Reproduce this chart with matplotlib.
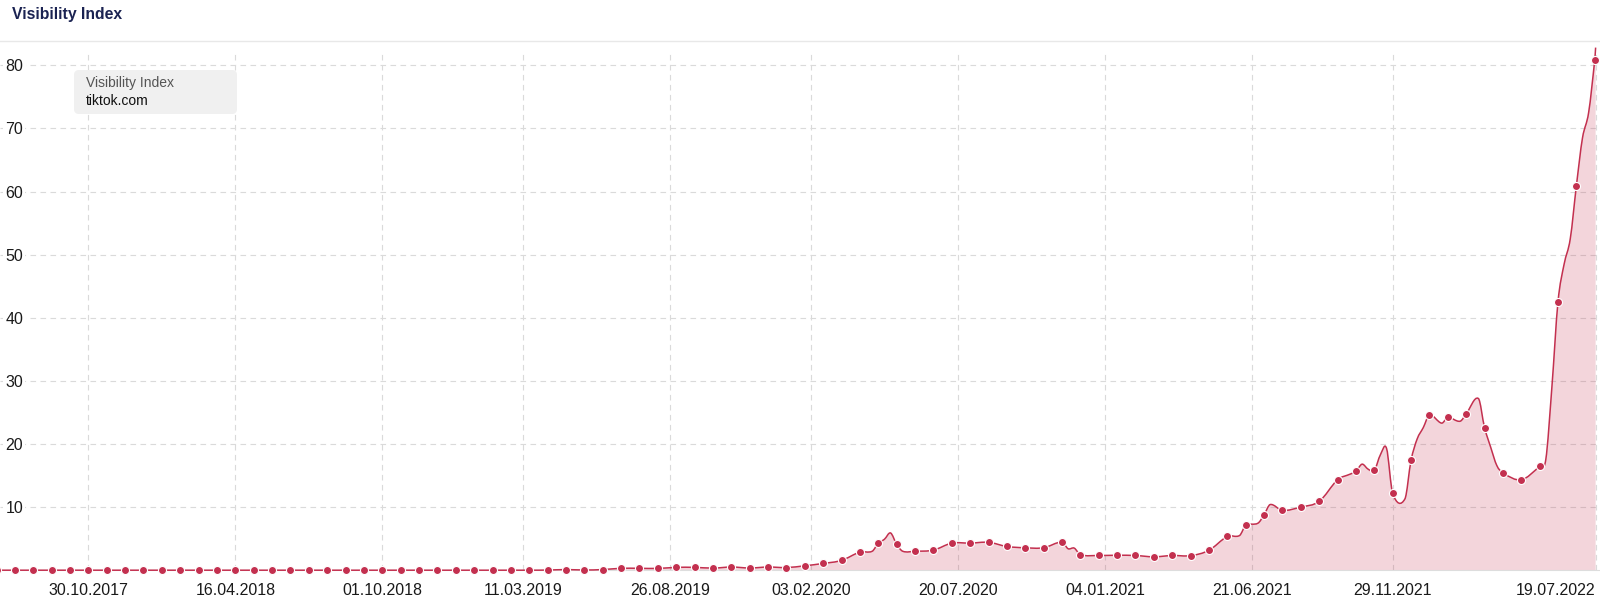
"""Visibility Index chart for tiktok.com (weekly index, dot every third week)."""

import matplotlib

matplotlib.use("Agg")
import matplotlib.pyplot as plt
import matplotlib.dates as mdates
from matplotlib.patches import FancyBboxPatch, PathPatch
from matplotlib.path import Path
from matplotlib.lines import Line2D
import numpy as np
import pandas as pd

plt.rcParams["font.family"] = ["Liberation Sans", "DejaVu Sans"]

RED = "#c3304f"

# values at the dotted points, one every 21 days starting 17.07.2017
dot_values = [
    0.0, 0.0, 0.0, 0.0, 0.0, 0.0, 0.0, 0.0, 0.0, 0.0,
    0.0, 0.0, 0.0, 0.0, 0.0, 0.0, 0.0, 0.0, 0.0, 0.0,
    0.0, 0.0, 0.0, 0.0, 0.0, 0.0, 0.0, 0.0, 0.0, 0.0,
    0.02, 0.1, 0.03, 0.1, 0.3, 0.3, 0.28, 0.45, 0.45, 0.33,
    0.5, 0.35, 0.5, 0.42, 0.7, 1.07, 1.55, 2.87, 4.29, 4.1,
    3.0, 3.18, 4.29, 4.29, 4.42, 3.76, 3.55, 3.55, 4.45, 2.45,
    2.33, 2.37, 2.33, 2.12, 2.33, 2.3, 3.15, 5.35, 7.1, 8.78,
    9.47, 10.0, 10.9, 14.33, 15.65, 15.8, 12.16, 17.4, 24.6, 24.2,
    24.75, 22.6, 15.4, 14.33, 16.44, 42.55, 60.9, 80.85,
]
dot_dates = pd.date_range("2017-07-17", periods=len(dot_values), freq="21D")

# weekly values between the dots where the line shows a visible bend
extra_dates = pd.to_datetime([
    "2020-04-13", "2020-04-27", "2020-05-04", "2020-05-18", "2020-11-23",
    "2020-11-30", "2021-06-07", "2021-06-28", "2021-07-12", "2021-10-11",
    "2021-10-25", "2021-11-01", "2021-11-15", "2021-11-22", "2021-12-13",
    "2021-12-27", "2022-01-03", "2022-01-24", "2022-02-14", "2022-03-07",
    "2022-03-21", "2022-03-28", "2022-05-23", "2022-05-30", "2022-06-13",
    "2022-06-20", "2022-07-04", "2022-07-11", "2022-07-19",
])
extra_values = [
    3.0, 4.9, 5.9, 3.0, 3.4,
    3.5, 5.5, 7.45, 10.4, 15.2,
    16.8, 16.0, 18.3, 19.3, 11.3,
    20.8, 22.6, 23.3, 23.6, 27.2,
    19.5, 16.6, 17.5, 29.0, 48.5,
    52.5, 68.5, 72.5, 82.8,
]

tick_dates = pd.to_datetime([
    "2017-10-30", "2018-04-16", "2018-10-01", "2019-03-11", "2019-08-26",
    "2020-02-03", "2020-07-20", "2021-01-04", "2021-06-21", "2021-11-29",
    "2022-07-19",
])
tick_labels = [d.strftime("%d.%m.%Y") for d in tick_dates]
y_ticks = [10, 20, 30, 40, 50, 60, 70, 80]


def build_line():
    """Merge dotted points and in-between points into one sorted series."""
    series = pd.concat([
        pd.Series(dot_values, index=dot_dates),
        pd.Series(extra_values, index=extra_dates),
    ]).sort_index()
    return mdates.date2num(series.index.to_pydatetime()), series.values


def spline_path(x, y):
    """Smooth Bezier path through the points (cubic Hermite, like a spline series)."""
    n = len(x)
    slopes = np.zeros(n)
    slopes[1:-1] = (y[2:] - y[:-2]) / (x[2:] - x[:-2])
    slopes[0] = (y[1] - y[0]) / (x[1] - x[0])
    slopes[-1] = (y[-1] - y[-2]) / (x[-1] - x[-2])

    verts = [(x[0], y[0])]
    codes = [Path.MOVETO]
    for i in range(n - 1):
        dx = x[i + 1] - x[i]
        verts += [
            (x[i] + dx / 3, y[i] + slopes[i] * dx / 3),
            (x[i + 1] - dx / 3, y[i + 1] - slopes[i + 1] * dx / 3),
            (x[i + 1], y[i + 1]),
        ]
        codes += [Path.CURVE4] * 3
    return verts, codes


def draw_chart():
    fig = plt.figure(figsize=(16, 6.01), dpi=100)
    ax = fig.add_axes([0, 0.05125, 1, 0.8622])

    x, y = build_line()
    verts, codes = spline_path(x, y)

    # area under the curve
    area_verts = verts + [(x[-1], 0), (x[0], 0), (x[0], 0)]
    area_codes = codes + [Path.LINETO, Path.LINETO, Path.CLOSEPOLY]
    ax.add_patch(PathPatch(Path(area_verts, area_codes), fc=RED, alpha=0.2,
                           lw=0, zorder=2))
    ax.add_patch(PathPatch(Path(verts, codes), fc="none", ec=RED, lw=1.1,
                           zorder=3, clip_on=False))
    ax.plot(dot_dates, dot_values, "o", ms=5.8, mfc=RED, mec="white", mew=0.8,
            zorder=4, clip_on=False)

    ax.set_xlim(pd.Timestamp("2017-07-21"), pd.Timestamp("2022-07-24"))
    ax.set_ylim(0, 82.1)
    ax.set_xticks(tick_dates)
    ax.set_xticklabels(tick_labels)
    ax.set_yticks(y_ticks)

    ax.grid(True, color="#dadada", ls=(0, (5, 4)), lw=0.8, zorder=1)
    for side in ["top", "left", "right"]:
        ax.spines[side].set_visible(False)
    ax.spines["bottom"].set_color("#dddddd")

    ax.tick_params(axis="both", length=0, labelsize=11.5, labelcolor="#1a1a1a")
    ax.tick_params(axis="x", pad=9)
    ax.tick_params(axis="y", pad=-4)
    for lbl in ax.get_yticklabels():
        lbl.set_horizontalalignment("left")
        lbl.set_bbox(dict(fc="white", ec="none", pad=1.5))
    ax.get_xticklabels()[-1].set_horizontalalignment("right")

    # header: title and divider
    fig.text(12 / 1600, 1 - 15 / 601, "Visibility Index", fontsize=11.3,
             fontweight="bold", color="#1b2352", va="center")
    fig.add_artist(Line2D([0, 1], [1 - 41 / 601] * 2, transform=fig.transFigure,
                          color="#e8e8e8", lw=1))

    # legend box (positions in inches)
    box = FancyBboxPatch((0.74, (601 - 114) / 100), 1.63, 0.44,
                         boxstyle="round,pad=0,rounding_size=0.05",
                         transform=fig.dpi_scale_trans, fc="#f0f0f0", ec="none")
    fig.add_artist(box)
    fig.text(0.86, (601 - 83) / 100, "Visibility Index", fontsize=10,
             color="#555555", va="center", transform=fig.dpi_scale_trans)
    fig.text(0.86, (601 - 101) / 100, "tiktok.com", fontsize=10,
             color="#111111", va="center", transform=fig.dpi_scale_trans)

    fig.savefig("out.png", dpi=100)


draw_chart()
